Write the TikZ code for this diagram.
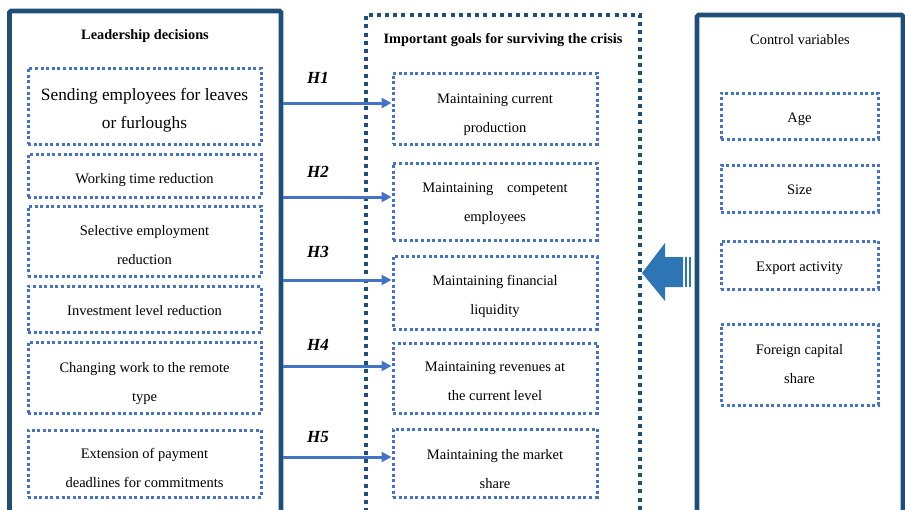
\documentclass[tikz,border=0pt]{standalone}
\usepackage{fontspec}
\setmainfont{Liberation Serif}
\usetikzlibrary{arrows.meta}
\definecolor{frameblue}{RGB}{31,78,121}
\definecolor{dotblue}{RGB}{68,114,196}
\definecolor{arrowblue}{RGB}{46,117,182}

\begin{document}
\begin{tikzpicture}[x=1pt,y=-1pt,
  frame/.style={draw=frameblue,line width=4.6pt,rounded corners=1.5pt,inner sep=0pt},
  dotframe/.style={draw=frameblue,line width=4pt,dash pattern=on 4pt off 4.2pt,inner sep=0pt},
  item/.style={draw=dotblue,line width=3pt,dash pattern=on 3pt off 2.6pt,inner sep=0pt,
    align=center,font=\fontsize{14.5}{29}\selectfont,execute at begin node={\rule{0pt}{#1}}},
  item/.default=0pt,
  title/.style={font=\bfseries\fontsize{14.3}{16}\selectfont},
  hyp/.style={font=\bfseries\itshape\fontsize{17}{19}\selectfont},
  link/.style={draw=dotblue,line width=3pt,-{Triangle[length=10pt,width=10pt]}}]
\useasboundingbox (0,0) rectangle (905,509);
\node[frame,minimum width=271.5pt,minimum height=502pt] (lead) at (145.25,262) {};
\node[dotframe,minimum width=274pt,minimum height=500pt] (goals) at (503,264.5) {};
\node[frame,minimum width=206pt,minimum height=500pt] (ctrl) at (800,265) {};
\node[title] (leadT) at (145,36) {Leadership decisions};
\node[title] (goalsT) at (503,40) {Important goals for surviving the crisis};
\node[font=\fontsize{14.4}{16}\selectfont] (ctrlT) at (800,40) {Control variables};
\node[item=48pt,minimum width=233pt,minimum height=76pt,font=\fontsize{17.3}{28}\selectfont] (d1) at (144.5,106) {Sending employees for leaves\\or furloughs};
\node[item=20pt,minimum width=233pt,minimum height=43pt] (d2) at (144.5,175.5) {Working time reduction};
\node[item=47pt,minimum width=233pt,minimum height=70pt] (d3) at (144.5,241) {Selective employment\\reduction};
\node[item=14pt,minimum width=233pt,minimum height=46pt] (d4) at (144.5,309) {Investment level reduction};
\node[item=51pt,minimum width=233pt,minimum height=71pt] (d5) at (144.5,377.5) {Changing work to the remote\\type};
\node[item=49pt,minimum width=233pt,minimum height=67pt] (d6) at (144.5,463.5) {Extension of payment\\deadlines for commitments};
\node[item=51pt,minimum width=204pt,minimum height=71pt] (g1) at (495,108.5) {Maintaining current\\production};
\node[item=43pt,minimum width=204pt,minimum height=77pt] (g2) at (495,201.5) {Maintaining\hspace{0.7em} competent\\employees};
\node[item=47pt,minimum width=204pt,minimum height=73pt] (g3) at (495,292.5) {Maintaining financial\\liquidity};
\node[item=46pt,minimum width=204pt,minimum height=70pt] (g4) at (495,378) {Maintaining revenues at\\the current level};
\node[item=51pt,minimum width=204pt,minimum height=68pt] (g5) at (495,463) {Maintaining the market\\share};
\node[item=16pt,minimum width=157pt,minimum height=46pt] (c1) at (799.5,116) {Age};
\node[item=12pt,minimum width=157pt,minimum height=47pt] (c2) at (799.5,188.5) {Size};
\node[item=16pt,minimum width=157pt,minimum height=48pt] (c3) at (799.5,265) {Export activity};
\node[item,minimum width=157pt,minimum height=81pt] (c4) at (799.5,364.5) {Foreign capital\\share};
\coordinate (a1) at (lead.east |- 0,103);
\coordinate (a2) at (lead.east |- 0,197);
\coordinate (a3) at (lead.east |- 0,280);
\coordinate (a4) at (lead.east |- 0,366);
\coordinate (a5) at (lead.east |- 0,457);
\draw[link] (a1) -- (a1 -| g1.west);
\draw[link] (a2) -- (a2 -| g2.west);
\draw[link] (a3) -- (a3 -| g3.west);
\draw[link] (a4) -- (a4 -| g4.west);
\draw[link] (a5) -- (a5 -| g5.west);
\node[hyp] (h1) at (318,78) {H1};
\node[hyp] (h2) at (318,172) {H2};
\node[hyp] (h3) at (318,252) {H3};
\node[hyp] (h4) at (318,345) {H4};
\node[hyp] (h5) at (318,437) {H5};
\fill[arrowblue] (goals.east |- 0,273) -- (665,243) -- (665,257) -- (683,257) -- (683,287) -- (665,287) -- (665,301) -- cycle;
\fill[arrowblue] (685,257) rectangle (687,287);
\fill[arrowblue] (689,257) rectangle (691,287);
\end{tikzpicture}
\end{document}
